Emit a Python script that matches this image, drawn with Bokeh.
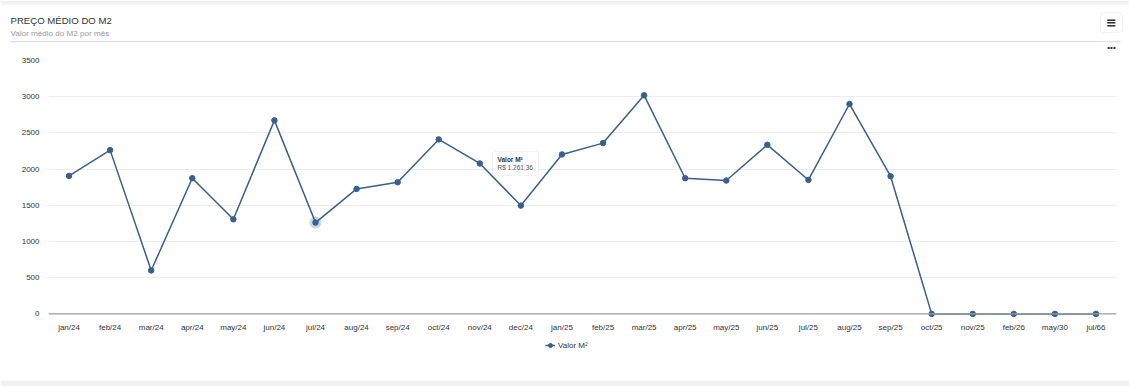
from bokeh.plotting import figure
from bokeh.models import (Range1d, FactorRange, Label, BoxAnnotation, Span, Legend,
                          LegendItem, ColumnDataSource, FixedTicker)
from bokeh.embed import file_html
from bokeh.resources import INLINE

# ---- data ----
months = ["jan/24", "feb/24", "mar/24", "apr/24", "may/24", "jun/24", "jul/24",
          "aug/24", "sep/24", "oct/24", "nov/24", "dec/24", "jan/25", "feb/25",
          "mar/25", "apr/25", "may/25", "jun/25", "jul/25", "aug/25", "sep/25",
          "oct/25", "nov/25", "feb/26", "may/30", "jul/66"]
valor_m2 = [1906, 2262, 600, 1874, 1306, 2673, 1261.36,
            1726, 1818, 2410, 2078, 1496, 2202, 2359,
            3019, 1874, 1842, 2335, 1850, 2899, 1902,
            0, 0, 0, 0, 0]
y_ticks = [0, 500, 1000, 1500, 2000, 2500, 3000, 3500]
series_name = "Valor M²"
title_text = "PREÇO MÉDIO DO M2"
subtitle_text = "Valor médio do M2 por mês"
hover_index = 6

FONT = "Liberation Sans"
LINE_COLOR = "#3a5f8e"
PAGE_GRAY = "#f1f1f1"
W = 1129
HEADER_H = 52
MAIN_H = 285
FOOTER_H = 386 - HEADER_H - MAIN_H


def box(fig, l, r, t, b, **kw):
    fig.add_layout(BoxAnnotation(left=l, right=r, top=t, bottom=b, **kw))


def blank_fig(h, bg="white"):
    f = figure(width=W, height=h, x_range=Range1d(0, W), y_range=Range1d(h, 0),
               x_axis_type=None, y_axis_type=None, min_border=0,
               output_backend="svg", toolbar_location=None,
               background_fill_color=bg, border_fill_color=bg)
    f.outline_line_color = None
    f.title.visible = False
    f.grid.visible = False
    return f

# ---------------- header ----------------
hdr = blank_fig(HEADER_H)
box(hdr, 0, W, 0, 4, fill_color=PAGE_GRAY, fill_alpha=1, line_color=None)
box(hdr, 10, 1120, 40.5, 41.8, fill_color="#e0e0e0", fill_alpha=1, line_color=None)
box(hdr, 1100, 1122, 12, 32, fill_color="white", fill_alpha=1,
    line_color="#cccccc", line_width=1, border_radius=3)
hdr.add_layout(Label(x=10, y=19.5, text=title_text, text_font=FONT, text_font_size="9.6px",
                     text_color="#333333", text_baseline="middle"))
hdr.add_layout(Label(x=10, y=32.5, text=subtitle_text, text_font=FONT, text_font_size="8.1px",
                     text_color="#999999", text_baseline="middle"))
hdr.add_layout(Label(x=1111, y=22, text="≡", text_font="DejaVu Sans", text_font_size="13px",
                     text_font_style="bold", text_color="#333333",
                     text_align="center", text_baseline="middle"))
hdr.add_layout(Label(x=1111, y=47, text="•••", text_font=FONT, text_font_size="8px",
                     text_font_style="bold", text_color="#333333",
                     text_align="center", text_baseline="middle"))

# ---------------- main chart ----------------
src = ColumnDataSource(dict(x=months, y=valor_m2))

p = figure(x_range=FactorRange(*months), y_range=Range1d(-50, y_ticks[-1]),
           width=W, height=MAIN_H,
           min_border_left=48, min_border_right=13, min_border_top=8, min_border_bottom=20,
           output_backend="svg", toolbar_location=None,
           background_fill_color="white", border_fill_color="white")
p.outline_line_color = None
p.title.visible = False

for ax in (p.xaxis, p.yaxis):
    ax.axis_line_color = None
    ax.major_tick_line_color = None
    ax.minor_tick_line_color = None
    ax.major_tick_out = 0
    ax.major_tick_in = 0
    ax.minor_tick_out = 0
    ax.major_label_text_font = FONT
    ax.major_label_text_font_size = "8px"
    ax.major_label_text_color = "#333333"
p.yaxis.ticker = FixedTicker(ticks=y_ticks)
p.yaxis.major_label_standoff = 9
p.xaxis.major_label_standoff = 5

p.xgrid.grid_line_color = None
p.ygrid.grid_line_color = "#ededed"
p.ygrid.grid_line_width = 1

p.add_layout(Span(location=0, dimension="width", line_color="#a0a0a0", line_width=1.2))

halo_src = ColumnDataSource(dict(x=[months[hover_index]], y=[valor_m2[hover_index]]))
p.scatter("x", "y", source=halo_src, size=12, fill_color="#cdd6e2", line_color=None)

p.line("x", "y", source=src, line_color=LINE_COLOR, line_width=1.5)
p.scatter("x", "y", source=src, size=5.5, fill_color=LINE_COLOR, line_color=LINE_COLOR)

# static tooltip (canvas units of the main chart)
v = valor_m2[hover_index]
val_txt = "R$ " + f"{v:,.2f}".replace(",", "X").replace(".", ",").replace("X", ".")
ty = HEADER_H
p.add_layout(BoxAnnotation(left=492, right=538, top=151 - ty, bottom=175 - ty,
                           left_units="canvas", right_units="canvas",
                           top_units="canvas", bottom_units="canvas",
                           fill_color="white", fill_alpha=1,
                           line_color="#cfcfcf", line_width=1, border_radius=2))
p.add_layout(Label(x=514, y=176.5 - ty, x_units="canvas", y_units="canvas", text="▼",
                   text_font="DejaVu Sans", text_font_size="6px", text_color="white",
                   text_align="center", text_baseline="middle"))
p.add_layout(Label(x=497, y=159 - ty, x_units="canvas", y_units="canvas", text=series_name,
                   text_font=FONT, text_font_size="6.5px", text_font_style="bold",
                   text_color="#333333", text_baseline="middle"))
p.add_layout(Label(x=497, y=167 - ty, x_units="canvas", y_units="canvas", text=val_txt,
                   text_font=FONT, text_font_size="6.5px",
                   text_color="#555555", text_baseline="middle"))

# ---------------- footer with legend ----------------
ftr = blank_fig(FOOTER_H)
box(ftr, 0, W, FOOTER_H - 6, FOOTER_H, fill_color=PAGE_GRAY, fill_alpha=1, line_color=None)
# legend proxies: same series, hidden (only their legend glyph is shown)
leg_src = ColumnDataSource(dict(x=list(range(len(months))), y=valor_m2))
leg_line = ftr.line("x", "y", source=leg_src, line_color=LINE_COLOR, line_width=1.5, visible=False)
leg_pts = ftr.scatter("x", "y", source=leg_src, size=5.5, fill_color=LINE_COLOR,
                      line_color=LINE_COLOR, visible=False)
legend = Legend(items=[LegendItem(label=series_name, renderers=[leg_line, leg_pts])],
                location=(545, FOOTER_H - (345 - HEADER_H - MAIN_H) - 5),
                orientation="horizontal",
                glyph_width=10, glyph_height=10, label_height=10, label_standoff=3,
                padding=0, margin=0, spacing=0,
                label_text_font=FONT, label_text_font_size="8px", label_text_color="#333333",
                border_line_color=None, background_fill_alpha=0, inactive_fill_alpha=0)
ftr.add_layout(legend)

open("out.html", "w").write(file_html([hdr, p, ftr], INLINE))
